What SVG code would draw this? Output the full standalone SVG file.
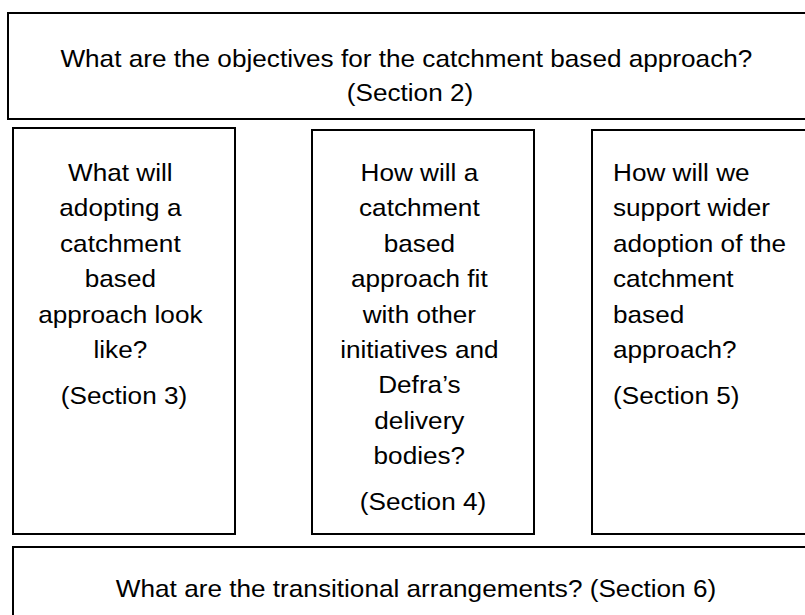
<svg xmlns="http://www.w3.org/2000/svg" width="805" height="615" viewBox="0 0 805 615">
<style>
.box{fill:#fff;stroke:#000;stroke-width:2}
text{font-family:"Liberation Sans",Arial,sans-serif;font-size:24px;fill:#000}
.c{text-anchor:middle}
</style>
<rect width="805" height="615" fill="#fff"/>
<g id="objectives">
<rect class="box" x="8" y="13" width="805" height="106"/>
<text class="c" transform="translate(410 0) scale(1.09 1)">
<tspan x="0" y="67">What are the objectives for the catchment based approach?</tspan>
<tspan x="0" y="101">(Section 2)</tspan>
</text>
</g>
<g id="section3">
<rect class="box" x="13" y="128" width="222" height="406"/>
<text class="c" transform="translate(124 0) scale(1.09 1)">
<tspan x="0" y="181">What will</tspan>
<tspan x="0" y="216.4">adopting a</tspan>
<tspan x="0" y="251.8">catchment</tspan>
<tspan x="0" y="287.2">based</tspan>
<tspan x="0" y="322.6">approach look</tspan>
<tspan x="0" y="358">like?</tspan>
<tspan x="0" y="404">(Section 3)</tspan>
</text>
</g>
<g id="section4">
<rect class="box" x="312" y="130" width="222" height="404"/>
<text class="c" transform="translate(423 0) scale(1.09 1)">
<tspan x="0" y="181">How will a</tspan>
<tspan x="0" y="216.4">catchment</tspan>
<tspan x="0" y="251.8">based</tspan>
<tspan x="0" y="287.2">approach fit</tspan>
<tspan x="0" y="322.6">with other</tspan>
<tspan x="0" y="358">initiatives and</tspan>
<tspan x="0" y="393.4">Defra’s</tspan>
<tspan x="0" y="428.8">delivery</tspan>
<tspan x="0" y="464.2">bodies?</tspan>
<tspan x="0" y="510">(Section 4)</tspan>
</text>
</g>
<g id="section5">
<rect class="box" x="592" y="130" width="230" height="404"/>
<text transform="translate(613 0) scale(1.09 1)">
<tspan x="0" y="181">How will we</tspan>
<tspan x="0" y="216.4">support wider</tspan>
<tspan x="0" y="251.8">adoption of the</tspan>
<tspan x="0" y="287.2">catchment</tspan>
<tspan x="0" y="322.6">based</tspan>
<tspan x="0" y="358">approach?</tspan>
<tspan x="0" y="404">(Section 5)</tspan>
</text>
</g>
<g id="transitional">
<rect class="box" x="13" y="547" width="810" height="100"/>
<text class="c" transform="translate(416 0) scale(1.09 1)" y="597">What are the transitional arrangements? (Section 6)</text>
</g>
<g id="connectors"/>
</svg>
